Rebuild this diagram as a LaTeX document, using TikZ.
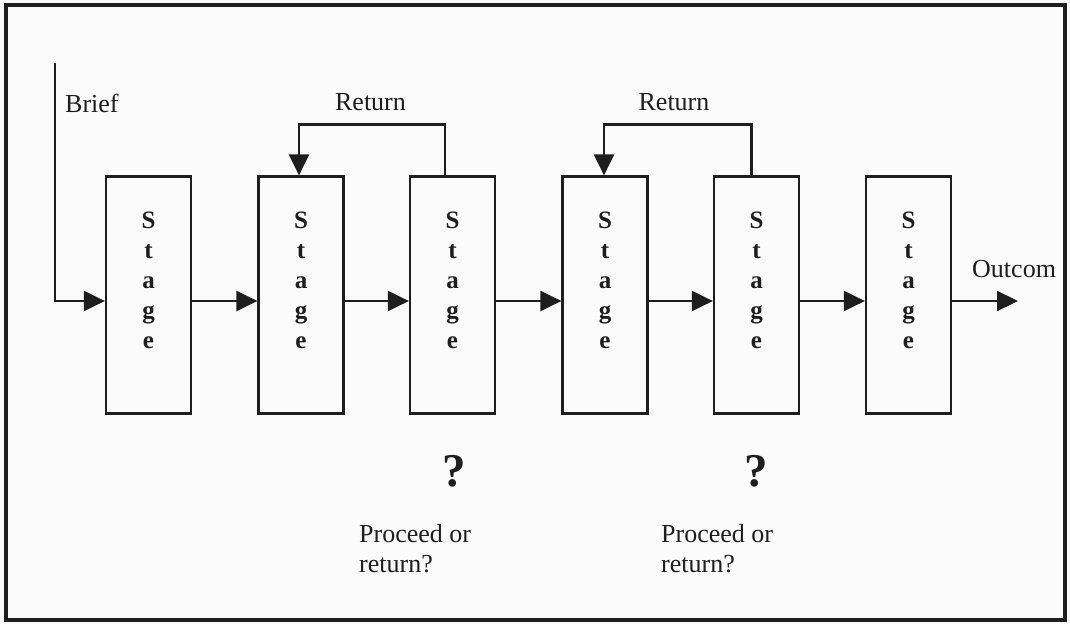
\documentclass[tikz,border=0pt]{standalone}
\usepackage{fontspec}
\setmainfont{Liberation Serif}
\usetikzlibrary{arrows.meta}
\definecolor{ink}{HTML}{1E1E1E}
\definecolor{paper}{HTML}{FBFBFB}
\begin{document}
\begin{tikzpicture}[x=1pt,y=-1pt,
  stagebox/.style={draw=ink,line width=2.2pt,minimum width=85pt,minimum height=237pt,inner sep=0pt},
  stagetxt/.style={font=\fontsize{25}{30}\selectfont\bfseries,align=center,inner sep=0pt,anchor=north,text=ink},
  lbl/.style={font=\fontsize{26}{30}\selectfont,inner sep=0pt,text=ink},
  qmark/.style={font=\fontsize{47}{50}\selectfont\bfseries,inner sep=0pt,text=ink},
  arr/.style={draw=ink,line width=2.2pt,-{Triangle[length=21pt,width=20pt]}},
  ln/.style={draw=ink,line width=2.2pt}]
\useasboundingbox (0,0) rectangle (1070,624);
\fill[paper] (0,0) rectangle (1070,624);
\draw[draw=ink,line width=4.5pt] (6,5) rectangle (1065,620);

% stage boxes
\foreach \i/\x in {1/148.5,2/301,3/452.5,4/605,5/756.5,6/908.5}{
  \node[stagebox] (b\i) at (\x,295) {};
  \node[stagetxt] (s\i) at ([yshift=-36pt]b\i.north) {S\\t\\a\\g\\e};
}

% brief input
\coordinate (bs) at (55,63);
\node[lbl,anchor=base west] (brief) at (65,112) {Brief};
\draw[arr] (bs) |- ([yshift=-6pt]b1.west);

% forward arrows
\draw[arr] ([yshift=-6pt]b1.east) -- ([yshift=-6pt]b2.west);
\draw[arr] ([yshift=-6pt]b2.east) -- ([yshift=-6pt]b3.west);
\draw[arr] ([yshift=-6pt]b3.east) -- ([yshift=-6pt]b4.west);
\draw[arr] ([yshift=-6pt]b4.east) -- ([yshift=-6pt]b5.west);
\draw[arr] ([yshift=-6pt]b5.east) -- ([yshift=-6pt]b6.west);
\coordinate (out) at (1018,301);
\draw[arr] ([yshift=-6pt]b6.east) -- (out);
\node[lbl,anchor=base west] (outcome) at (972,277) {Outcom};

% return loops
\coordinate (r1a) at ([xshift=-7.5pt]b3.north);
\coordinate (r1b) at ([xshift=-2pt]b2.north);
\draw[arr] (r1a) -- ++(0,-51) -| (r1b);
\node[lbl,anchor=base] (ret1) at (370.5,110) {Return};

\coordinate (r2a) at ([xshift=-5pt]b5.north);
\coordinate (r2b) at ([xshift=-1pt]b4.north);
\draw[arr] (r2a) -- ++(0,-51) -| (r2b);
\node[lbl,anchor=base] (ret2) at (674,110) {Return};

% decision marks
\node[qmark,anchor=base] (q1) at (454,486) {?};
\node[qmark,anchor=base] (q2) at (756,486) {?};
\node[lbl,anchor=base west] (p1) at (359,542) {Proceed or};
\node[lbl,anchor=base west] (p1b) at (359,572) {return?};
\node[lbl,anchor=base west] (p2) at (661,542) {Proceed or};
\node[lbl,anchor=base west] (p2b) at (661,572) {return?};
\end{tikzpicture}
\end{document}
